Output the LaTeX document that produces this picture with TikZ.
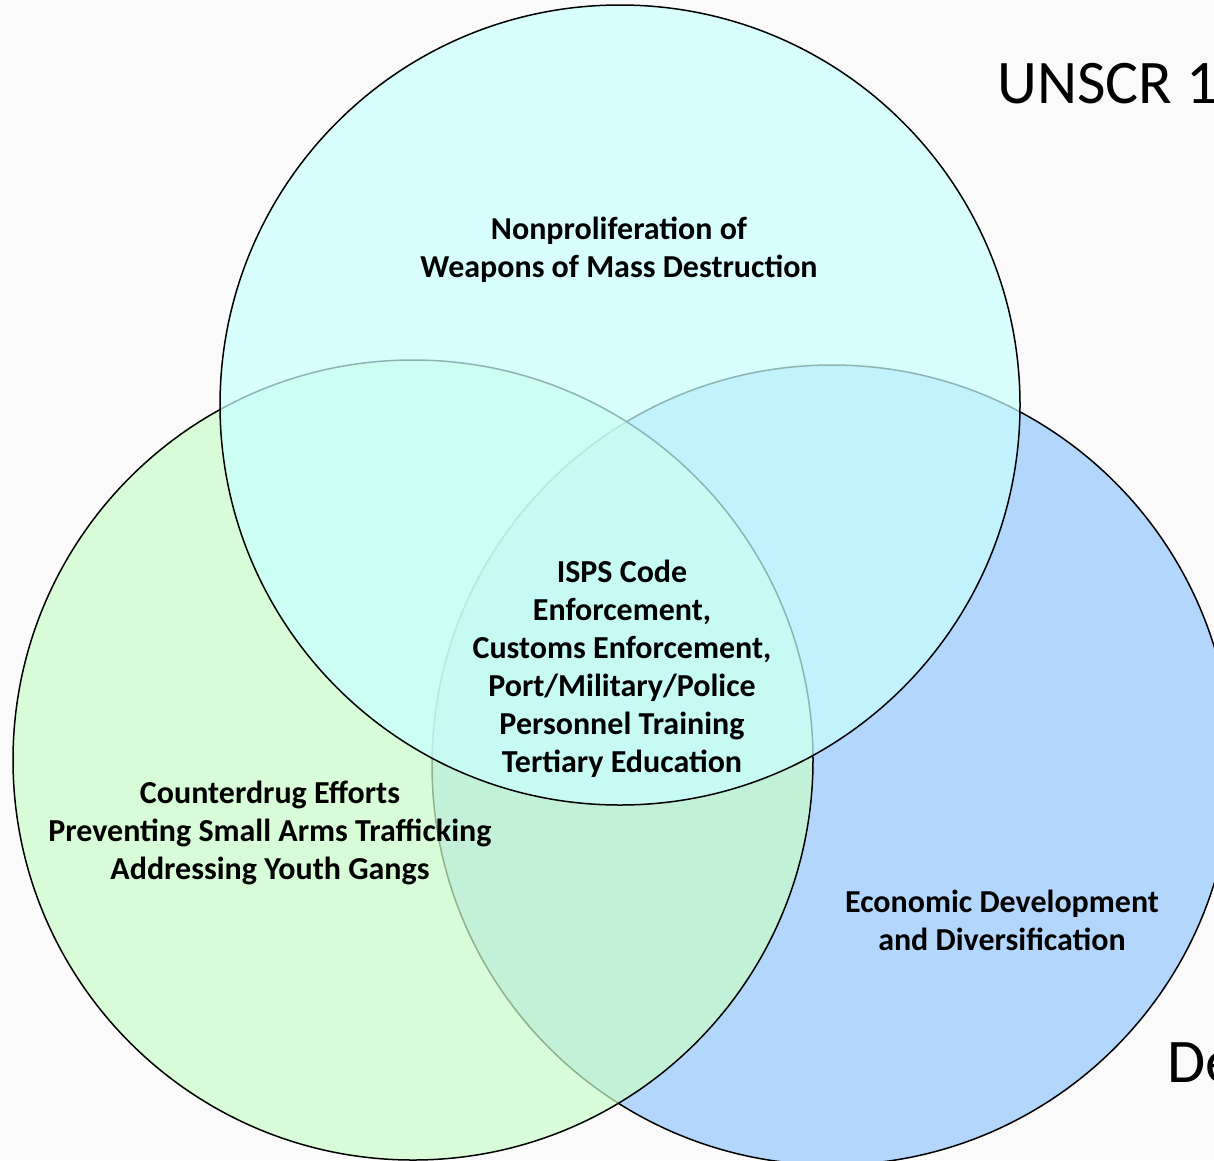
\documentclass[tikz,border=0pt]{standalone}
\usepackage{fontspec}
\setmainfont{Carlito}
\definecolor{bgc}{HTML}{FAFAFA}
\definecolor{topc}{RGB}{201,255,255}
\definecolor{leftc}{RGB}{201,253,201}
\definecolor{rightc}{HTML}{B3D6FC}
\tikzset{
  venn/.style={draw=black, line width=1.5pt, fill opacity=0.7},
  lbl/.style={align=center, font=\fontsize{32}{38}\selectfont\bfseries, inner sep=0pt},
  big/.style={font=\fontsize{62}{64}\selectfont, inner sep=0pt, anchor=west}
}
\begin{document}
\begin{tikzpicture}[x=1pt,y=-1pt]
\useasboundingbox (0,0) rectangle (1214,1160);
\clip (0,0) rectangle (1214,1160);
\fill[bgc] (0,0) rectangle (1214,1160);
\node[big] (unscr) at (997,84) {UNSCR 1};
\node[big] (de) at (1167,1063) {De};
\draw[venn, fill=rightc, fill opacity=1] (832,765) circle[radius=400pt];
\draw[venn, fill=leftc] (413,760) circle[radius=400pt];
\draw[venn, fill=topc] (620,405) circle[radius=400pt];
\node[lbl] (np) at (619,250) {Nonproliferation of\\Weapons of Mass Destruction};
\node[lbl] (ctr) at (622,669) {ISPS Code\\Enforcement,\\Customs Enforcement,\\Port/Military/Police\\Personnel Training\\Tertiary Education};
\node[lbl] (cd) at (270,833) {Counterdrug Efforts\\Preventing Small Arms Trafficking\\Addressing Youth Gangs};
\node[lbl] (ed) at (1002,920) {Economic Development\\and Diversification};
\end{tikzpicture}
\end{document}
